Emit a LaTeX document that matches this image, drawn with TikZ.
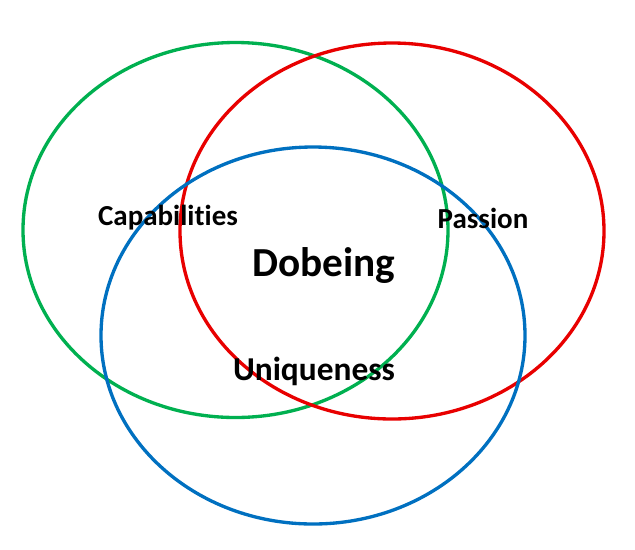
\documentclass[tikz,border=0pt]{standalone}
\usepackage{fontspec}
\setmainfont[Ligatures=CommonOff]{Carlito}
\definecolor{vgreen}{HTML}{00B050}
\definecolor{vred}{HTML}{E80000}
\definecolor{vblue}{HTML}{0070C0}
\tikzset{
  ring/.style={line width=1.9pt},
  lbl/.style={font=\bfseries\fontsize{16.5}{18}\selectfont, inner sep=0pt}
}
\begin{document}
\begin{tikzpicture}[x=0.02cm, y=-0.02cm]
  \useasboundingbox (0,0) rectangle (635,549);
  % capacidades (verde)
  \draw[ring, vgreen] (235.5,230) ellipse (212.5 and 187.5);
  % pasion (rojo)
  \draw[ring, vred] (392,231) ellipse (212 and 188);
  % singularidad (azul)
  \draw[ring, vblue] (313,335.5) ellipse (212 and 188.5);
  % textos
  \node[lbl] (cap) at (168,218) {Capabilities};
  \node[lbl] (pas) at (483,218) {Passion};
  \node[lbl, font=\bfseries\fontsize{23.5}{26}\selectfont] (dob) at (324,266) {Dobeing};
  \node[lbl, font=\bfseries\fontsize{19}{21}\selectfont] (uni) at (314,371) {Uniqueness};
\end{tikzpicture}
\end{document}
